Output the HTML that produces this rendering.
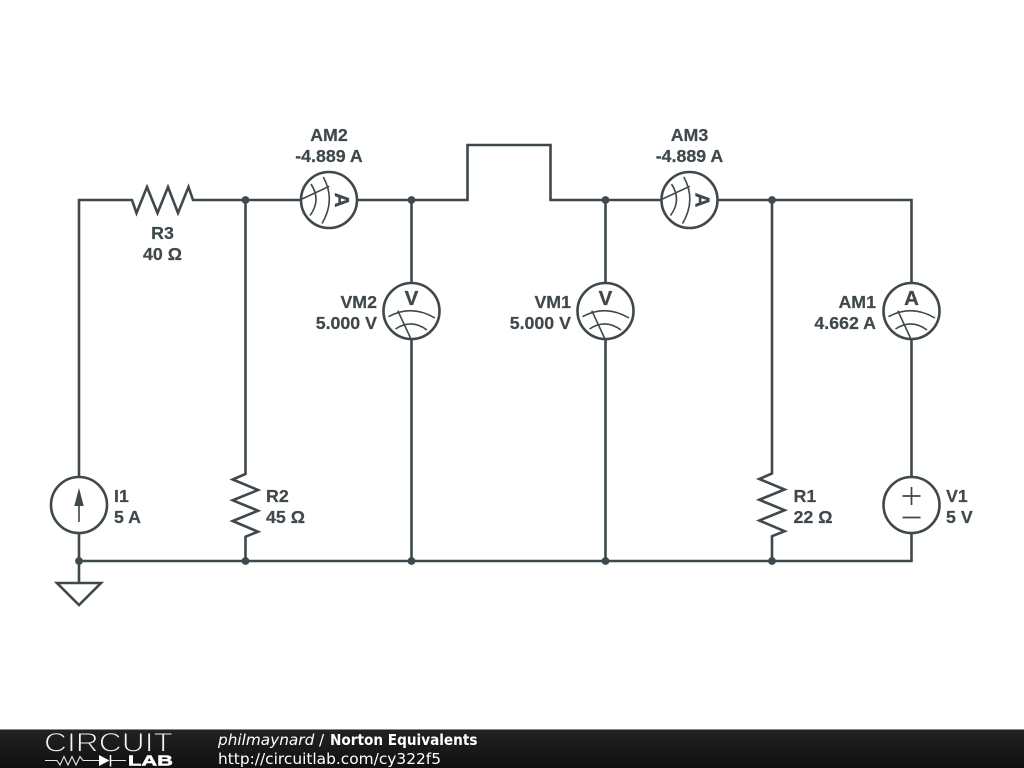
<!DOCTYPE html>
<html>
<head>
<meta charset="utf-8">
<style>
html,body{margin:0;padding:0;background:#fff;width:1024px;height:768px;overflow:hidden}
svg{display:block;position:absolute;left:0;top:0}
.w{fill:none;stroke:#3f484c;stroke-width:2.6;stroke-linejoin:miter}
.t{font-family:"Liberation Sans",sans-serif;font-weight:bold;font-size:17.8px;fill:#3f484c;stroke:#3f484c;stroke-width:.2}
.m{font-family:"Liberation Sans",sans-serif;font-weight:bold;font-size:20.5px;fill:#3f484c;text-anchor:middle;stroke:#3f484c;stroke-width:.3}
.a{fill:none;stroke:#3f484c;stroke-width:1.6}
.e{text-anchor:end}.c{text-anchor:middle}
</style>
</head>
<body>
<svg width="1024" height="768" viewBox="0 0 1024 768" xmlns="http://www.w3.org/2000/svg">
<defs>
<linearGradient id="g" x1="0" y1="0" x2="0" y2="1"><stop offset="0" stop-color="#232323"/><stop offset="1" stop-color="#101010"/></linearGradient>
</defs>
<!-- wires -->
<path class="w" d="M79 477V200H132L136.500 213L147 187L157.500 213L168 187L178 213L188.500 187L193 200H301"/>
<path class="w" d="M357 200H467.500V145H550.500V200H662"/>
<path class="w" d="M718 200H911.500V283"/>
<path class="w" d="M911.500 339V477"/>
<path class="w" d="M911.500 533V561H79V533"/>
<path class="w" d="M245.500 200V474L232.700 479.500L258 490L232.700 500.300L258 510.700L232.700 521L258 531.700L245.500 536.700V561"/>
<path class="w" d="M772 200V473.500L759.300 479L784.600 489.500L759.300 499.800L784.600 510.200L759.300 520.500L784.600 531.200L772 536.200V561"/>
<path class="w" d="M411.500 200V283M411.500 339V561"/>
<path class="w" d="M605.500 200V283M605.500 339V561"/>
<path class="w" d="M79 561V583"/>
<path class="w" d="M57 583H101L79 605Z"/>
<!-- junctions -->
<g fill="#3f484c">
<circle cx="245.500" cy="200" r="3.900"/><circle cx="411.500" cy="200" r="3.900"/><circle cx="605.500" cy="200" r="3.900"/><circle cx="772" cy="200" r="3.900"/>
<circle cx="79" cy="561" r="3.900"/><circle cx="245.500" cy="561" r="3.900"/><circle cx="411.500" cy="561" r="3.900"/><circle cx="605.500" cy="561" r="3.900"/><circle cx="772" cy="561" r="3.900"/>
</g>
<!-- meters -->
<g transform="translate(329 200) rotate(90)">
<circle class="w" r="28"/><path class="a" d="M-23 5.700Q0 -7 23.500 7M-16 18Q0 7.500 15.500 19M-13.700 -.3L-1 27"/><text class="m" y="-6">A</text>
</g>
<g transform="translate(689.500 200) rotate(90)">
<circle class="w" r="28"/><path class="a" d="M-23 5.700Q0 -7 23.500 7M-16 18Q0 7.500 15.500 19M-13.700 -.3L-1 27"/><text class="m" y="-6">A</text>
</g>
<g transform="translate(411.500 311)">
<circle class="w" r="28"/><path class="a" d="M-23 5.700Q0 -7 23.500 7M-16 18Q0 7.500 15.500 19M-13.700 -.3L-1 27"/><text class="m" y="-6">V</text>
</g>
<g transform="translate(605.500 311)">
<circle class="w" r="28"/><path class="a" d="M-23 5.700Q0 -7 23.500 7M-16 18Q0 7.500 15.500 19M-13.700 -.3L-1 27"/><text class="m" y="-6">V</text>
</g>
<g transform="translate(911.500 311)">
<circle class="w" r="28"/><path class="a" d="M-23 5.700Q0 -7 23.500 7M-16 18Q0 7.500 15.500 19M-13.700 -.3L-1 27"/><text class="m" y="-6">A</text>
</g>
<!-- sources -->
<circle class="w" cx="79" cy="505" r="28"/>
<path d="M79 522V500" stroke="#3f484c" stroke-width="1.600" fill="none"/>
<path d="M79 488L83.700 506H74.300Z" fill="#3f484c"/>
<circle class="w" cx="911.500" cy="505" r="28"/>
<path d="M902.500 496H920.500M911.500 487V505M902.500 517.500H920.500" stroke="#3f484c" stroke-width="1.700" fill="none"/>
<!-- labels -->
<text class="t c" x="329" y="141">AM2</text><text class="t c" x="329" y="162">-4.889 A</text>
<text class="t c" x="689.500" y="141">AM3</text><text class="t c" x="689.500" y="162">-4.889 A</text>
<text class="t c" x="162.500" y="239">R3</text><text class="t c" x="162.500" y="260">40 Ω</text>
<text class="t e" x="377" y="308">VM2</text><text class="t e" x="377" y="329">5.000 V</text>
<text class="t e" x="571" y="308">VM1</text><text class="t e" x="571" y="329">5.000 V</text>
<text class="t e" x="876" y="308">AM1</text><text class="t e" x="876" y="329">4.662 A</text>
<text class="t" x="114" y="502">I1</text><text class="t" x="114" y="523">5 A</text>
<text class="t" x="266" y="502">R2</text><text class="t" x="266" y="523">45 Ω</text>
<text class="t" x="793.500" y="502">R1</text><text class="t" x="793.500" y="523">22 Ω</text>
<text class="t" x="946" y="502">V1</text><text class="t" x="946" y="523">5 V</text>
<!-- footer -->
<rect x="0" y="729" width="1024" height="39" fill="url(#g)"/>
<rect x="0" y="729" width="1024" height="1" fill="#8a8a8a"/>
<text x="44" y="751.500" font-family="Liberation Sans,sans-serif" font-size="26.500" fill="#f4f4f4" stroke="#1d1d1d" stroke-width="1" paint-order="fill stroke" textLength="129" lengthAdjust="spacingAndGlyphs">CIRCUIT</text>
<path d="M45 760.500H57L60 765L64 756.500L68 765L72 756.500L76 765L80 756.500L83 760.500H100M110.500 760.500H126" stroke="#e8e8e8" stroke-width="1.100" fill="none"/>
<path d="M99 755L109.500 760.500L99 766Z" fill="#fff"/>
<path d="M110.500 755V766.500" stroke="#fff" stroke-width="1.500"/>
<text x="128" y="765.500" font-family="Liberation Sans,sans-serif" font-weight="bold" font-size="15" fill="#fff" stroke="#fff" stroke-width=".5" textLength="45" lengthAdjust="spacingAndGlyphs">LAB</text>
<text x="218" y="745" font-family="DejaVu Sans,sans-serif" font-size="15.300" font-style="italic" fill="#fff">philmaynard</text>
<text x="319" y="745" font-family="DejaVu Sans,sans-serif" font-size="15.300" fill="#fff">/</text>
<text x="330" y="745" font-family="DejaVu Sans,sans-serif" font-size="15.300" font-weight="bold" fill="#fff" textLength="147.500" lengthAdjust="spacingAndGlyphs">Norton Equivalents</text>
<text x="218" y="764" font-family="DejaVu Sans,sans-serif" font-size="15.400" fill="#fff">http://circuitlab.com/cy322f5</text>
</svg>
</body>
</html>
